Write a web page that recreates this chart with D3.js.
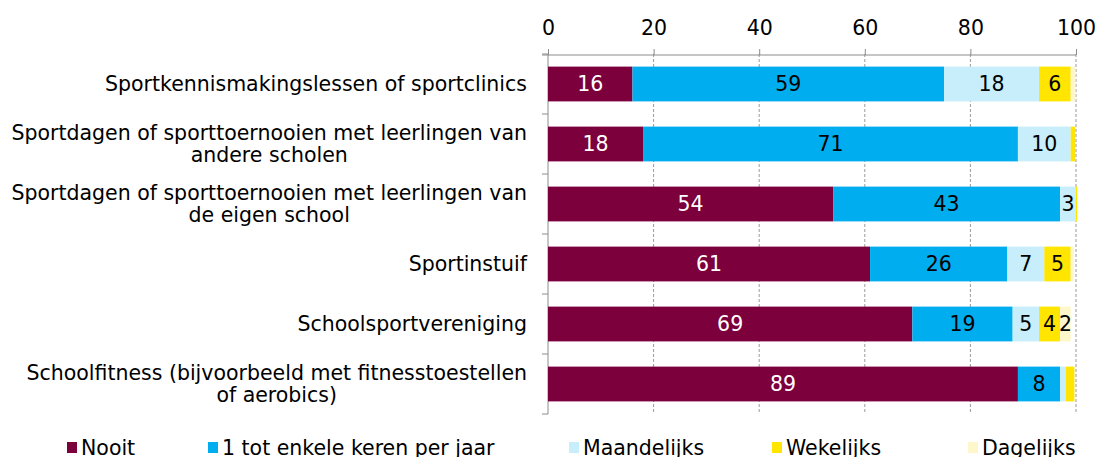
<!DOCTYPE html>
<html>
<head>
<meta charset="utf-8">
<script src="https://cdn.jsdelivr.net/npm/d3@7"></script>
<style>
    body { margin: 0; background: #fff; }
    svg text { font-family: "DejaVu Sans", sans-serif; fill: #000; }
</style>
</head>
<body>
<div id="chart"></div>
<script>
// categories (each entry is the wrapped label lines)
const categories = [
    ['Sportkennismakingslessen of sportclinics'],
    ['Sportdagen of sporttoernooien met leerlingen van', 'andere scholen'],
    ['Sportdagen of sporttoernooien met leerlingen van', 'de eigen school'],
    ['Sportinstuif'],
    ['Schoolsportvereniging'],
    ['Schoolfitness (bijvoorbeeld met fitnesstoestellen', 'of aerobics)']
];

const seriesNames = ['Nooit', '1 tot enkele keren per jaar', 'Maandelijks', 'Wekelijks', 'Dagelijks'];
const seriesColors = ['#7b003c', '#00aeef', '#c8eefc', '#ffe500', '#fff7cc'];

// one array per series, same order as categories
const nooit       = [16, 18, 54, 61, 69, 89];
const jaarlijks   = [59, 71, 43, 26, 19, 8];
const maandelijks = [18, 10, 3, 7, 5, 1.1];
const wekelijks   = [6, 0.8, 0.2, 5, 4, 1.6];
const dagelijks   = [0.9, 0, 0, 0.6, 2, 0];

const tickValues = [0, 20, 40, 60, 80, 100];

const width = 1100, height = 457;
const plot = { left: 548, right: 1076, top: 54, bottom: 414 };
const fontSize = 20.5;

const svg = d3.select('#chart')
    .append('svg')
        .attr('width', width)
        .attr('height', height);

const x = d3.scaleLinear()
    .domain([0, 100])
    .range([plot.left, plot.right]);

const y = d3.scaleBand()
    .domain(d3.range(categories.length))
    .range([plot.top, plot.bottom])
    .paddingInner(0.42)
    .paddingOuter(0.21);

// gridlines
svg.append('g')
    .selectAll('line')
    .data(tickValues.filter(d => d > 0))
    .join('line')
        .attr('x1', d => x(d)).attr('x2', d => x(d))
        .attr('y1', plot.top).attr('y2', plot.bottom)
        .attr('stroke', '#9a9a9a')
        .attr('stroke-dasharray', '3,2');

// top axis
const xAxis = d3.axisTop(x)
    .tickValues(tickValues)
    .tickSize(6)
    .tickSizeOuter(0)
    .tickPadding(14);

const gx = svg.append('g')
    .attr('transform', 'translate(0,' + (plot.top + 1) + ')')
    .call(xAxis);
gx.select('.domain').attr('stroke', '#8c8c8c').attr('d', 'M' + (plot.left - 6) + ',0H' + plot.right);
gx.selectAll('.tick line').attr('stroke', '#8c8c8c');
gx.selectAll('.tick text').attr('font-size', fontSize).attr('fill', '#000');

// left axis: line + ticks at band boundaries
const boundaries = d3.range(categories.length + 1).map(i => plot.top + i * y.step());
const gy = svg.append('g');
gy.append('line')
    .attr('x1', plot.left).attr('x2', plot.left)
    .attr('y1', plot.top).attr('y2', plot.bottom)
    .attr('stroke', '#8c8c8c');
gy.selectAll('.bt')
    .data(boundaries)
    .join('line')
        .attr('class', 'bt')
        .attr('x1', plot.left - 6).attr('x2', plot.left)
        .attr('y1', d => d).attr('y2', d => d)
        .attr('stroke', '#8c8c8c');

// stacked data
const rows = categories.map((c, i) => ({
    i: i,
    Nooit: nooit[i],
    '1 tot enkele keren per jaar': jaarlijks[i],
    Maandelijks: maandelijks[i],
    Wekelijks: wekelijks[i],
    Dagelijks: dagelijks[i]
}));

const stack = d3.stack().keys(seriesNames)(rows);

const layers = svg.append('g')
    .selectAll('g')
    .data(stack)
    .join('g')
        .attr('fill', (d, k) => seriesColors[k]);

layers.selectAll('rect')
    .data(d => d)
    .join('rect')
        .attr('x', d => x(d[0]))
        .attr('y', d => y(d.data.i))
        .attr('width', d => x(d[1]) - x(d[0]))
        .attr('height', y.bandwidth());

// value labels
layers.selectAll('text')
    .data((d, k) => d.map(v => ({ v: v, k: k })))
    .join('text')
        .filter(d => d.v[1] - d.v[0] >= 2)
        .attr('x', d => (x(d.v[0]) + x(d.v[1])) / 2)
        .attr('y', d => y(d.v.data.i) + y.bandwidth() / 2)
        .attr('dy', '0.36em')
        .attr('text-anchor', 'middle')
        .attr('font-size', fontSize)
        .style('fill', d => d.k === 0 ? '#fff' : '#000')
        .text(d => Math.round(d.v[1] - d.v[0]));

// category labels, wrapped lines centred on each other, block right-aligned
const labelRight = 527;
const lineH = 22;
const catLabels = svg.append('g')
    .selectAll('text')
    .data(categories)
    .join('text')
        .attr('font-size', fontSize)
        .attr('text-anchor', 'middle');

catLabels.each(function (lines, i) {
    const t = d3.select(this);
    const cy = y(i) + y.bandwidth() / 2;
    const spans = lines.map((ln, j) => t.append('tspan')
        .attr('x', 0)
        .attr('y', cy + (j - (lines.length - 1) / 2) * lineH)
        .attr('dy', '0.36em')
        .text(ln));
    const w = d3.max(spans, s => s.node().getComputedTextLength());
    t.selectAll('tspan').attr('x', labelRight - w / 2);
});

// legend
const legendX = [67, 208, 569, 772, 968];
const legend = svg.append('g')
    .selectAll('g')
    .data(seriesNames)
    .join('g')
        .attr('transform', (d, k) => 'translate(' + legendX[k] + ',0)');

legend.append('rect')
    .attr('y', 442)
    .attr('width', 10)
    .attr('height', 11)
    .attr('fill', (d, k) => seriesColors[k]);

legend.append('text')
    .attr('x', 14)
    .attr('y', 455)
    .attr('font-size', fontSize)
    .text(d => d);
</script>
</body>
</html>
